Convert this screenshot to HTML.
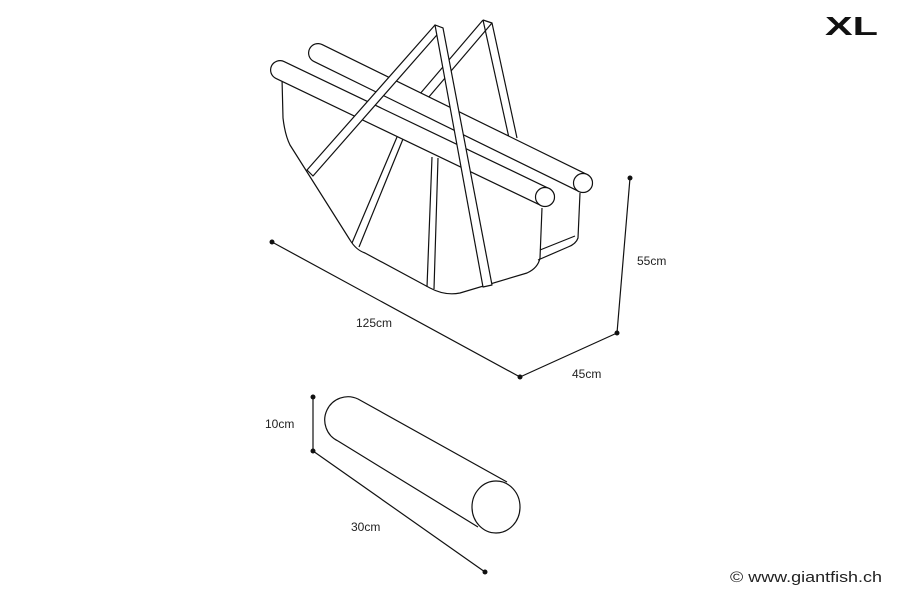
<!DOCTYPE html>
<html><head><style>body{margin:0;background:#fff}svg{display:block}text{font-family:"Liberation Sans",sans-serif;font-size:12px;fill:#222}</style></head>
<body>
<svg width="900" height="600" viewBox="0 0 900 600" xmlns="http://www.w3.org/2000/svg">
<g fill="none" stroke="#111" stroke-width="1.2" stroke-linejoin="round">
<path d="M483,20 L492,23 L517,138 M483,20 L509,138"/>
<path d="M483,20 L419,95 M492,23 L428,98"/>
<path d="M282,78 L283,118 Q285,135 290,145 L350,240 Q356,250 365,253 L430,288 Q445,296 460,293 L527,273 Q538,268 540,258 L542,208" fill="#fff"/>
<path d="M580,193 L578,238 Q576,244 568,247 L538,260"/>
<path d="M540,250 L575,236"/>
<path d="M397,137 L352,243 M403,139 L359,247"/>
<path d="M432,157 L427,287 M438,158 L434,289"/>
</g>
<line x1="318" y1="53" x2="583" y2="183" stroke="#111" stroke-width="20" stroke-linecap="round"/>
<line x1="318" y1="53" x2="583" y2="183" stroke="#fff" stroke-width="17.6" stroke-linecap="round"/>
<circle cx="583" cy="183" r="9.5" fill="#fff" stroke="#111" stroke-width="1.2"/>
<line x1="280" y1="70" x2="545" y2="197" stroke="#111" stroke-width="20" stroke-linecap="round"/>
<line x1="280" y1="70" x2="545" y2="197" stroke="#fff" stroke-width="17.6" stroke-linecap="round"/>
<circle cx="545" cy="197" r="9.5" fill="#fff" stroke="#111" stroke-width="1.2"/>
<g fill="none" stroke="#111" stroke-width="1.2" stroke-linejoin="round">
<path d="M307,170 L435,25 L443,28 L313,176 Z" fill="#fff"/>
<path d="M435,25 L443,28 L492,285 L483,287 Z" fill="#fff"/>
<path d="M272,242 L520,377 L617,333 L630,178"/>
<path d="M313,397 L313,451 L485,572"/>
<path d="M358,399 L507,482 M338,441 L478,527 M358,399 A23,23 0 0 0 338,441"/>
<ellipse cx="496" cy="507" rx="24" ry="26"/>
</g>
<g fill="#111">
<circle cx="272" cy="242" r="2.5"/><circle cx="520" cy="377" r="2.5"/><circle cx="617" cy="333" r="2.5"/><circle cx="630" cy="178" r="2.5"/>
<circle cx="313" cy="397" r="2.5"/><circle cx="313" cy="451" r="2.5"/><circle cx="485" cy="572" r="2.5"/>
</g>
<text x="356" y="327">125cm</text>
<text x="572" y="378">45cm</text>
<text x="637" y="265">55cm</text>
<text x="265" y="428">10cm</text>
<text x="351" y="531">30cm</text>
<text x="730" y="582" style="font-size:15px" textLength="152" lengthAdjust="spacingAndGlyphs">© www.giantfish.ch</text>
<text x="825" y="35" style="font-size:26px;font-weight:bold;fill:#111" textLength="53" lengthAdjust="spacingAndGlyphs">XL</text>
</svg>
</body></html>
